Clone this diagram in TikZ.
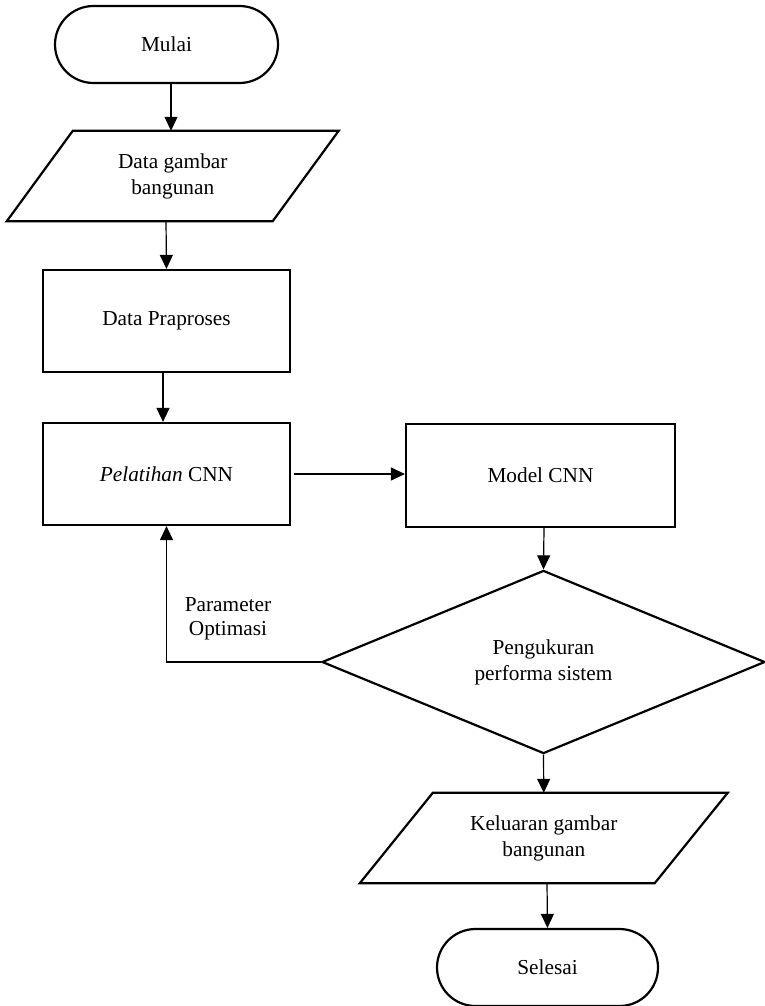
\documentclass[tikz,border=0pt]{standalone}
\usepackage{fontspec}
\setmainfont{Liberation Serif}
\usetikzlibrary{shapes.geometric,arrows.meta}

% parallelogram outline drawn around an invisible text node
\newcommand\slantbox[2]{%
  \draw[outline] ([xshift=#2]#1.north west) -- ([xshift=#2]#1.north east)
    -- ([xshift=-#2]#1.south east) -- ([xshift=-#2]#1.south west) -- cycle;}

\begin{document}
\begin{tikzpicture}[x=1pt,y=-1pt,
  every node/.style={font=\fontsize{21.3}{26}\selectfont, align=center, inner sep=0pt},
  outline/.style={line width=2.2pt},
  terminal/.style={outline, draw, rounded corners=38.5pt, minimum width=223pt, minimum height=77pt},
  process/.style={outline, draw, minimum width=247pt, minimum height=102pt},
  io/.style={minimum width=#1, minimum height=90pt},
  decision/.style={outline, draw, diamond, minimum width=443pt, minimum height=183pt},
  arr/.style={line width=1.2pt, -{Triangle[length=14pt,width=13pt]}},
]
\path[use as bounding box] (0,0) rectangle (765,1006);

% nodes
\node[terminal] (mulai) at (166.5,44.5) {Mulai};
\node[io=265.5pt] (data) at (172.75,176) {Data gambar\\bangunan};
\slantbox{data}{33pt}
\node[process] (prap) at (166.5,321) {Data Praproses};
\node[process] (pel) at (166.5,474) {\textit{Pelatihan} CNN};
\node[process, minimum width=269pt, minimum height=103pt] (model) at (540.5,475.5) {Model CNN};
\node[decision] (ukur) at (543.5,662) {Pengukuran\\performa sistem};
\node[io=294.5pt] (kel) at (543.75,838) {Keluaran gambar\\bangunan};
\slantbox{kel}{36.5pt}
\node[terminal, minimum width=221pt] (selesai) at (547.5,967.5) {Selesai};
\node (param) at (228,619) {Parameter\\[-2pt]Optimasi};

% connectors
\draw[arr] ([xshift=4.5pt]mulai.south) -- ([xshift=-1.75pt]data.north);
\draw[arr] ([xshift=-6.75pt]data.south) -- (prap.north);
\draw[arr] ([xshift=-3.5pt]prap.south) -- ([xshift=-3.5pt]pel.north);
\draw[arr] ([xshift=3pt]pel.east) -- (pel.east -| model.west);
\draw[arr] ([xshift=3.5pt]model.south) -- (ukur.north);
\draw[arr] (ukur.south) -- (kel.north);
\draw[arr] ([xshift=3.25pt]kel.south) -- (selesai.north);
\draw[arr] (ukur.west) -| (pel.south);
\end{tikzpicture}
\end{document}
